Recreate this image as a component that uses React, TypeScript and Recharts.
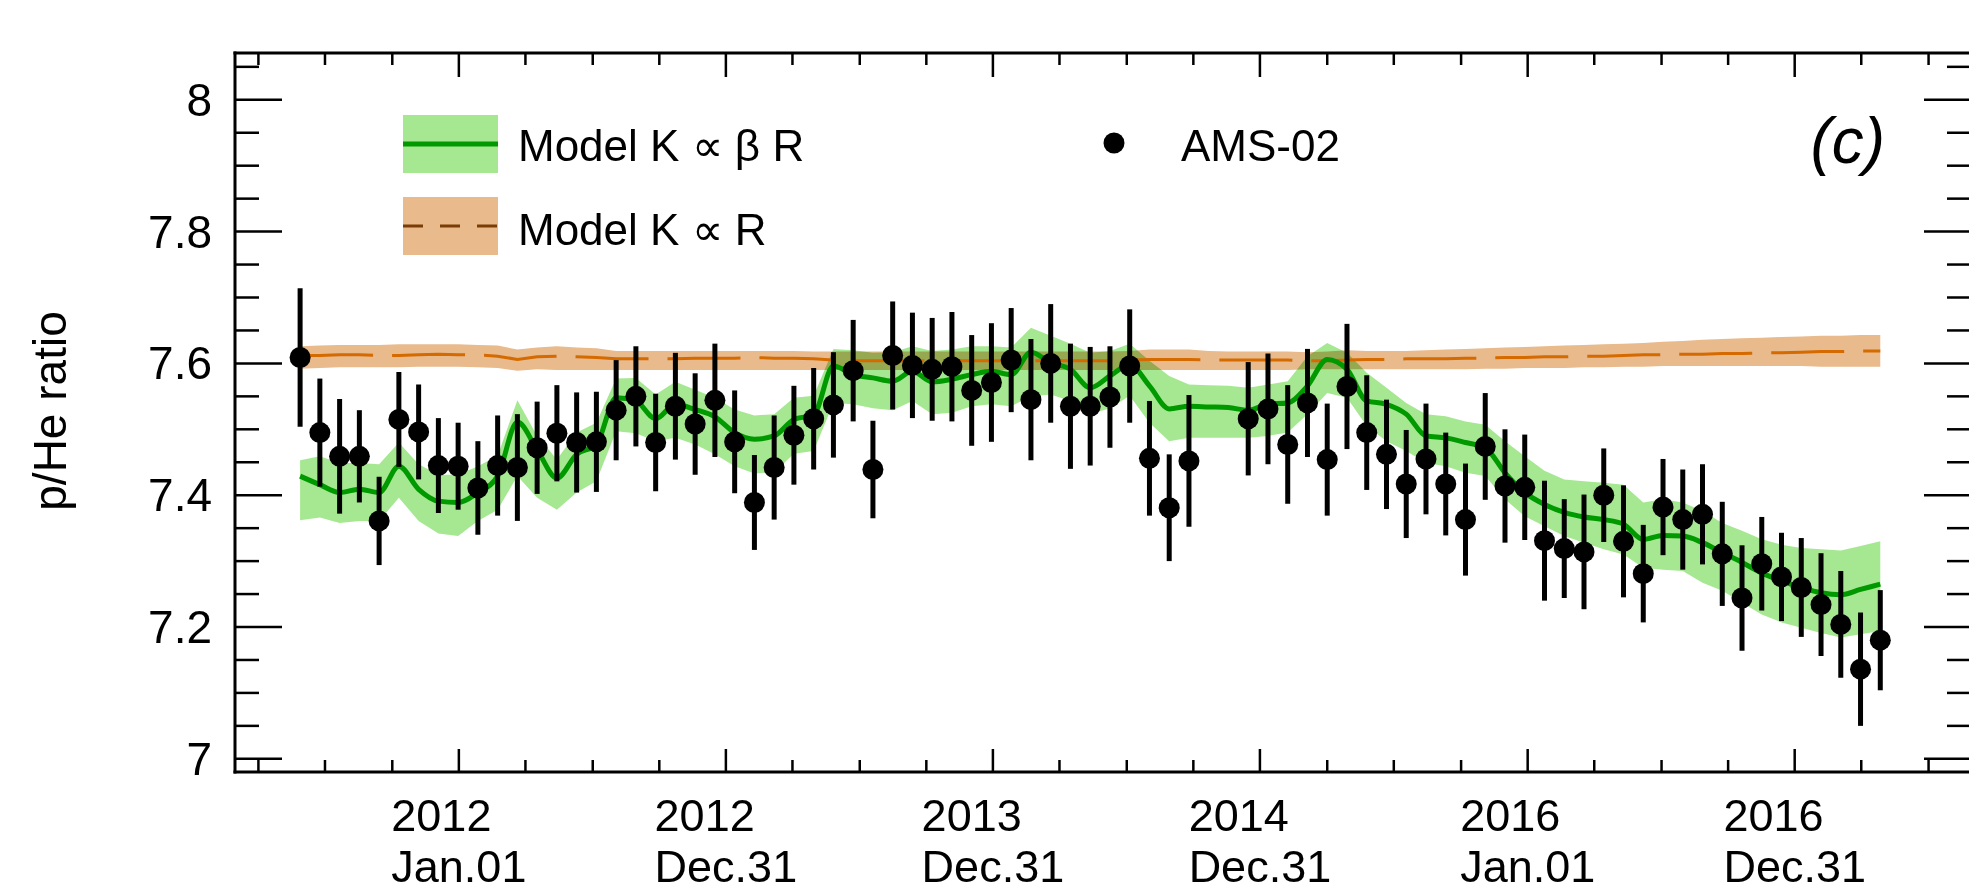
import React from "react";
import {
  ComposedChart,
  Area,
  Line,
  Scatter,
  ErrorBar,
  XAxis,
  YAxis,
  Legend,
} from "recharts";

// days since 2012 Jan.01 (Bartels rotation centres)
const days = [
  -217, -190, -163, -136, -109, -82, -55, -28, -1, 26,
  53, 80, 107, 134, 161, 188, 215, 242, 269, 296,
  323, 350, 377, 404, 431, 458, 485, 512, 539, 566,
  593, 620, 647, 674, 701, 728, 755, 782, 809, 836,
  863, 890, 917, 944, 971, 998, 1025, 1052, 1079, 1106,
  1133, 1160, 1187, 1214, 1241, 1268, 1295, 1322, 1349, 1376,
  1403, 1430, 1457, 1484, 1511, 1538, 1565, 1592, 1619, 1646,
  1673, 1700, 1727, 1754, 1781, 1808, 1835, 1862, 1889, 1916,
  1943,
];

// AMS-02 p/He
const amsRatio = [
  7.609, 7.495, 7.459, 7.459, 7.361, 7.515, 7.496, 7.445, 7.444, 7.411,
  7.445, 7.442, 7.472, 7.494, 7.480, 7.481, 7.529, 7.550, 7.480, 7.535,
  7.508, 7.544, 7.481, 7.389, 7.442, 7.491, 7.516, 7.537, 7.589, 7.439,
  7.612, 7.597, 7.591, 7.595, 7.559, 7.571, 7.605, 7.545, 7.600, 7.535,
  7.535, 7.549, 7.596, 7.456, 7.381, 7.452, null, null, 7.516, 7.531,
  7.477, 7.540, 7.454, 7.565, 7.495, 7.462, 7.417, 7.455, 7.417, 7.363,
  7.474, 7.414, 7.412, 7.331, 7.319, 7.314, 7.400, 7.330, 7.281, 7.382,
  7.363, 7.371, 7.311, 7.244, 7.296, 7.276, 7.260, 7.234, 7.204, 7.136,
  7.180,
];
const amsErr = [
  0.105, 0.082, 0.087, 0.070, 0.067, 0.072, 0.072, 0.072, 0.066, 0.071,
  0.076, 0.081, 0.070, 0.073, 0.076, 0.076, 0.076, 0.076, 0.074, 0.081,
  0.077, 0.086, 0.078, 0.072, 0.079, 0.075, 0.077, 0.080, 0.077, 0.074,
  0.082, 0.080, 0.078, 0.083, 0.084, 0.090, 0.079, 0.092, 0.090, 0.095,
  0.090, 0.077, 0.086, 0.087, 0.081, 0.100, null, null, 0.086, 0.084,
  0.090, 0.082, 0.085, 0.095, 0.087, 0.083, 0.082, 0.084, 0.078, 0.085,
  0.081, 0.086, 0.080, 0.091, 0.075, 0.087, 0.071, 0.085, 0.074, 0.073,
  0.076, 0.076, 0.079, 0.080, 0.071, 0.067, 0.075, 0.078, 0.081, 0.086,
  0.076,
];

// Model K ~ beta R
const betaMid = [
  7.429, 7.416, 7.404, 7.409, 7.404, 7.444, 7.409, 7.391, 7.389, 7.404,
  7.429, 7.511, 7.469, 7.426, 7.462, 7.477, 7.548, 7.543, 7.516, 7.538,
  7.530, 7.519, 7.495, 7.485, 7.490, 7.515, 7.522, 7.596, 7.583, 7.578,
  7.573, 7.588, 7.572, 7.576, 7.583, 7.588, 7.583, 7.617, 7.601, 7.591,
  7.563, 7.581, 7.598, 7.566, 7.531, 7.535, 7.534, 7.533, 7.529, 7.538,
  7.540, 7.566, 7.606, 7.591, 7.543, 7.538, 7.523, 7.490, 7.487, 7.480,
  7.472, 7.434, 7.404, 7.386, 7.374, 7.367, 7.363, 7.356, 7.333, 7.339,
  7.338, 7.328, 7.313, 7.298, 7.282, 7.270, 7.260, 7.252, 7.249, 7.257,
  7.265,
];
const betaHi = [
  7.453, 7.459, 7.449, 7.449, 7.447, 7.480, 7.447, 7.431, 7.431, 7.444,
  7.460, 7.544, 7.490, 7.454, 7.495, 7.510, 7.577, 7.578, 7.553, 7.572,
  7.560, 7.548, 7.530, 7.521, 7.523, 7.548, 7.551, 7.622, 7.620, 7.616,
  7.617, 7.626, 7.619, 7.621, 7.626, 7.626, 7.624, 7.654, 7.642, 7.630,
  7.616, 7.619, 7.630, 7.604, 7.581, 7.568, 7.567, 7.566, 7.563, 7.568,
  7.573, 7.611, 7.631, 7.616, 7.586, 7.563, 7.540, 7.523, 7.520, 7.512,
  7.507, 7.482, 7.459, 7.437, 7.424, 7.421, 7.419, 7.416, 7.389, 7.394,
  7.389, 7.376, 7.358, 7.346, 7.333, 7.325, 7.320, 7.318, 7.316, 7.323,
  7.330,
];
const betaLo = [
  7.362, 7.366, 7.358, 7.361, 7.361, 7.396, 7.361, 7.342, 7.338, 7.361,
  7.378, 7.429, 7.396, 7.378, 7.404, 7.421, 7.497, 7.494, 7.482, 7.487,
  7.477, 7.462, 7.444, 7.433, 7.435, 7.463, 7.467, 7.540, 7.538, 7.532,
  7.529, 7.543, 7.523, 7.525, 7.535, 7.538, 7.535, 7.550, 7.553, 7.543,
  7.523, 7.532, 7.551, 7.510, 7.482, 7.487, 7.487, 7.487, 7.487, 7.490,
  7.495, 7.523, 7.555, 7.548, 7.505, 7.482, 7.467, 7.449, 7.444, 7.434,
  7.429, 7.394, 7.368, 7.353, 7.338, 7.328, 7.318, 7.310, 7.290, 7.287,
  7.285, 7.267, 7.255, 7.237, 7.219, 7.207, 7.199, 7.191, 7.184, 7.189,
  7.194,
];

// Model K ~ R
const rigMid = [
  7.612, 7.612, 7.613, 7.613, 7.612, 7.612, 7.613, 7.614, 7.613, 7.613,
  7.611, 7.606, 7.610, 7.611, 7.610, 7.609, 7.607, 7.607, 7.607, 7.607,
  7.608, 7.608, 7.608, 7.609, 7.608, 7.608, 7.607, 7.605, 7.604, 7.604,
  7.604, 7.604, 7.604, 7.604, 7.604, 7.604, 7.604, 7.604, 7.604, 7.604,
  7.604, 7.604, 7.605, 7.606, 7.606, 7.606, 7.605, 7.605, 7.605, 7.605,
  7.605, 7.604, 7.604, 7.605, 7.606, 7.606, 7.607, 7.607, 7.607, 7.608,
  7.608, 7.609, 7.609, 7.610, 7.610, 7.611, 7.611, 7.612, 7.613, 7.613,
  7.614, 7.614, 7.615, 7.615, 7.616, 7.616, 7.617, 7.618, 7.618, 7.619,
  7.619,
];
const rigHi = [
  7.626, 7.627, 7.628, 7.628, 7.628, 7.629, 7.629, 7.629, 7.629, 7.628,
  7.627, 7.621, 7.624, 7.626, 7.624, 7.623, 7.619, 7.619, 7.619, 7.619,
  7.619, 7.619, 7.619, 7.619, 7.619, 7.619, 7.618, 7.618, 7.618, 7.618,
  7.618, 7.618, 7.618, 7.618, 7.618, 7.618, 7.618, 7.618, 7.618, 7.618,
  7.618, 7.618, 7.619, 7.621, 7.621, 7.621, 7.619, 7.618, 7.618, 7.618,
  7.618, 7.617, 7.618, 7.620, 7.619, 7.619, 7.619, 7.620, 7.621, 7.622,
  7.623, 7.624, 7.625, 7.626, 7.627, 7.628, 7.629, 7.630, 7.631, 7.633,
  7.634, 7.636, 7.637, 7.638, 7.639, 7.640, 7.641, 7.642, 7.642, 7.643,
  7.643,
];
const rigLo = [
  7.592, 7.593, 7.594, 7.594, 7.594, 7.594, 7.595, 7.595, 7.595, 7.594,
  7.593, 7.589, 7.591, 7.590, 7.590, 7.590, 7.590, 7.590, 7.590, 7.590,
  7.590, 7.590, 7.590, 7.590, 7.590, 7.590, 7.590, 7.590, 7.590, 7.590,
  7.590, 7.590, 7.590, 7.590, 7.590, 7.590, 7.590, 7.590, 7.590, 7.590,
  7.590, 7.590, 7.590, 7.590, 7.590, 7.590, 7.590, 7.590, 7.590, 7.590,
  7.590, 7.591, 7.591, 7.591, 7.591, 7.591, 7.591, 7.591, 7.591, 7.591,
  7.592, 7.592, 7.593, 7.593, 7.593, 7.594, 7.594, 7.595, 7.595, 7.596,
  7.596, 7.596, 7.596, 7.596, 7.596, 7.596, 7.596, 7.595, 7.595, 7.595,
  7.595,
];

const xTicks = [
  -274, -183, -91, 0, 91, 183, 274, 365, 456, 548, 639, 730, 821,
  913, 1004, 1095, 1187, 1278, 1370, 1461, 1552, 1644, 1735, 1826, 1917, 2009,
];
const xTickLabels: Record<number, [string, string]> = {
  0: ["2012", "Jan.01"],
  365: ["2012", "Dec.31"],
  730: ["2013", "Dec.31"],
  1095: ["2014", "Dec.31"],
  1461: ["2016", "Jan.01"],
  1826: ["2016", "Dec.31"],
};
const yTicks = [
  7, 7.05, 7.1, 7.15, 7.2, 7.25, 7.3, 7.35, 7.4, 7.45, 7.5,
  7.55, 7.6, 7.65, 7.7, 7.75, 7.8, 7.85, 7.9, 7.95, 8, 8.05,
];
const yTickLabels = [7, 7.2, 7.4, 7.6, 7.8, 8];

const FONT = "'Liberation Sans', Arial, Helvetica, sans-serif";
const AXIS = { stroke: "#000", strokeWidth: 3, strokeLinecap: "square" as const };

const modelRows = days.map((day, i) => ({
  day,
  rig: [rigLo[i], rigHi[i]],
  rigMid: rigMid[i],
  beta: [betaLo[i], betaHi[i]],
  betaMid: betaMid[i],
}));
const amsRows = days
  .map((day, i) => ({ day, ratio: amsRatio[i], err: amsErr[i] }))
  .filter((r) => r.ratio !== null);

// rough Arial advance widths, used to left-align the two label lines
const charW: Record<string, number> = { J: 500, D: 722, a: 556, n: 556, e: 556, c: 500, ".": 278 };
const textWidth = (s: string, size: number) =>
  (s.split("").reduce((w, ch) => w + (charW[ch] ?? 556), 0) / 1000) * size;

function BottomTick(props: any) {
  const { x, y, payload } = props;
  const lab = xTickLabels[payload.value];
  const left = lab ? x - textWidth(lab[1], 45) / 2 : x;
  return (
    <g>
      <line x1={x} x2={x} y1={y} y2={y - (lab ? 23 : 12)} stroke="#000" strokeWidth={2.5} />
      {lab && (
        <g fontFamily={FONT} fontSize={45} fill="#000">
          <text x={left} y={y + 59}>{lab[0]}</text>
          <text x={left} y={y + 110}>{lab[1]}</text>
        </g>
      )}
    </g>
  );
}

function TopTick(props: any) {
  const { x, y, payload } = props;
  const major = xTickLabels[payload.value] !== undefined;
  return <line x1={x} x2={x} y1={y} y2={y + (major ? 24 : 12)} stroke="#000" strokeWidth={2.5} />;
}

function LeftTick(props: any) {
  const { x, y, payload } = props;
  const major = yTickLabels.includes(payload.value);
  return (
    <g>
      <line x1={x} x2={x + (major ? 47 : 24)} y1={y} y2={y} stroke="#000" strokeWidth={2.5} />
      {major && (
        <text x={x - 23} y={y + 16} textAnchor="end" fontFamily={FONT} fontSize={46} fill="#000">
          {String(payload.value)}
        </text>
      )}
    </g>
  );
}

function RightTick(props: any) {
  const { x, y, payload } = props;
  const major = yTickLabels.includes(payload.value);
  return <line x1={x} x2={x - (major ? 47 : 24)} y1={y} y2={y} stroke="#000" strokeWidth={2.5} />;
}

function YTitle() {
  return (
    <text x={66} y={411} transform="rotate(-90 66 411)" textAnchor="middle" fontFamily={FONT} fontSize={46} fill="#000">
      p/He ratio
    </text>
  );
}

function AmsDot(props: any) {
  const { cx, cy } = props;
  if (cx == null || cy == null) return null;
  return <circle cx={cx} cy={cy} r={10.5} fill="#000" />;
}

function LegendOverlay() {
  return (
    <svg width={1969} height={892} style={{ display: "block" }}>
      <g fontFamily={FONT} fontSize={44} fill="#000">
        <rect x={403} y={115} width={95} height={58} fill="#a6e891" />
        <line x1={403} x2={498} y1={144} y2={144} stroke="#009900" strokeWidth={5} />
        <text x={518} y={161}>Model K ∝ β R</text>
        <rect x={403} y={197} width={95} height={58} fill="#e8ba8c" />
        <line x1={403} x2={498} y1={226} y2={226} stroke="#7a3d05" strokeWidth={3} strokeDasharray="20 17" />
        <text x={518} y={245}>Model K ∝ R</text>
        <circle cx={1114} cy={143} r={10.5} fill="#000" />
        <text x={1181} y={161}>AMS-02</text>
        <text x={1885} y={163} textAnchor="end" fontSize={64} fontStyle="italic">(c)</text>
      </g>
    </svg>
  );
}

export default function App() {
  return (
    <div
      style={{
        position: "absolute",
        left: 0,
        top: 0,
        width: 1969,
        height: 892,
        overflow: "hidden",
        background: "#fff",
      }}
    >
      <style>{`.gband { mix-blend-mode: multiply; }`}</style>
      <ComposedChart
        width={1975}
        height={892}
        data={modelRows}
        margin={{ top: 23, right: 0, bottom: 0, left: 0 }}
      >
        <XAxis
          xAxisId="b"
          dataKey="day"
          type="number"
          domain={[-306, 2067]}
          allowDataOverflow
          ticks={xTicks}
          interval={0}
          tickSize={0}
          tickMargin={0}
          tickLine={false}
          tick={<BottomTick />}
          height={120}
          axisLine={AXIS}
        />
        <XAxis
          xAxisId="t"
          orientation="top"
          dataKey="day"
          type="number"
          domain={[-306, 2067]}
          allowDataOverflow
          ticks={xTicks}
          interval={0}
          tickSize={0}
          tickMargin={0}
          tickLine={false}
          tick={<TopTick />}
          height={30}
          axisLine={AXIS}
        />
        <YAxis
          yAxisId="l"
          type="number"
          domain={[6.98, 8.071]}
          allowDataOverflow
          ticks={yTicks}
          interval={0}
          tickSize={0}
          tickMargin={0}
          tickLine={false}
          tick={<LeftTick />}
          width={235}
          axisLine={AXIS}
          label={<YTitle />}
        />
        <YAxis
          yAxisId="r"
          orientation="right"
          type="number"
          domain={[6.98, 8.071]}
          allowDataOverflow
          ticks={yTicks}
          interval={0}
          tickSize={0}
          tickMargin={0}
          tickLine={false}
          tick={<RightTick />}
          width={4}
          axisLine={AXIS}
        />
        <Area
          xAxisId="b"
          yAxisId="l"
          dataKey="rig"
          type="linear"
          stroke="none"
          fill="#e8ba8c"
          fillOpacity={1}
          isAnimationActive={false}
        />
        <Line
          xAxisId="b"
          yAxisId="l"
          dataKey="rigMid"
          type="linear"
          stroke="#d46a00"
          strokeWidth={3}
          strokeDasharray="73 19"
          dot={false}
          activeDot={false}
          isAnimationActive={false}
        />
        <Area
          className="gband"
          xAxisId="b"
          yAxisId="l"
          dataKey="beta"
          type="linear"
          stroke="none"
          fill="#a6e891"
          fillOpacity={1}
          isAnimationActive={false}
        />
        <Line
          xAxisId="b"
          yAxisId="l"
          dataKey="betaMid"
          type="monotone"
          stroke="#009900"
          strokeWidth={5}
          dot={false}
          activeDot={false}
          isAnimationActive={false}
        />
        <Scatter
          xAxisId="b"
          yAxisId="l"
          data={amsRows}
          dataKey="ratio"
          shape={<AmsDot />}
          isAnimationActive={false}
        >
          <ErrorBar dataKey="err" direction="y" width={0} stroke="#000" strokeWidth={5} isAnimationActive={false} />
        </Scatter>
        <Legend
          content={<LegendOverlay />}
          verticalAlign="middle"
          align="center"
          wrapperStyle={{ position: "absolute", left: 0, top: 0, width: 1969, height: 892, pointerEvents: "none" }}
        />
      </ComposedChart>
    </div>
  );
}
